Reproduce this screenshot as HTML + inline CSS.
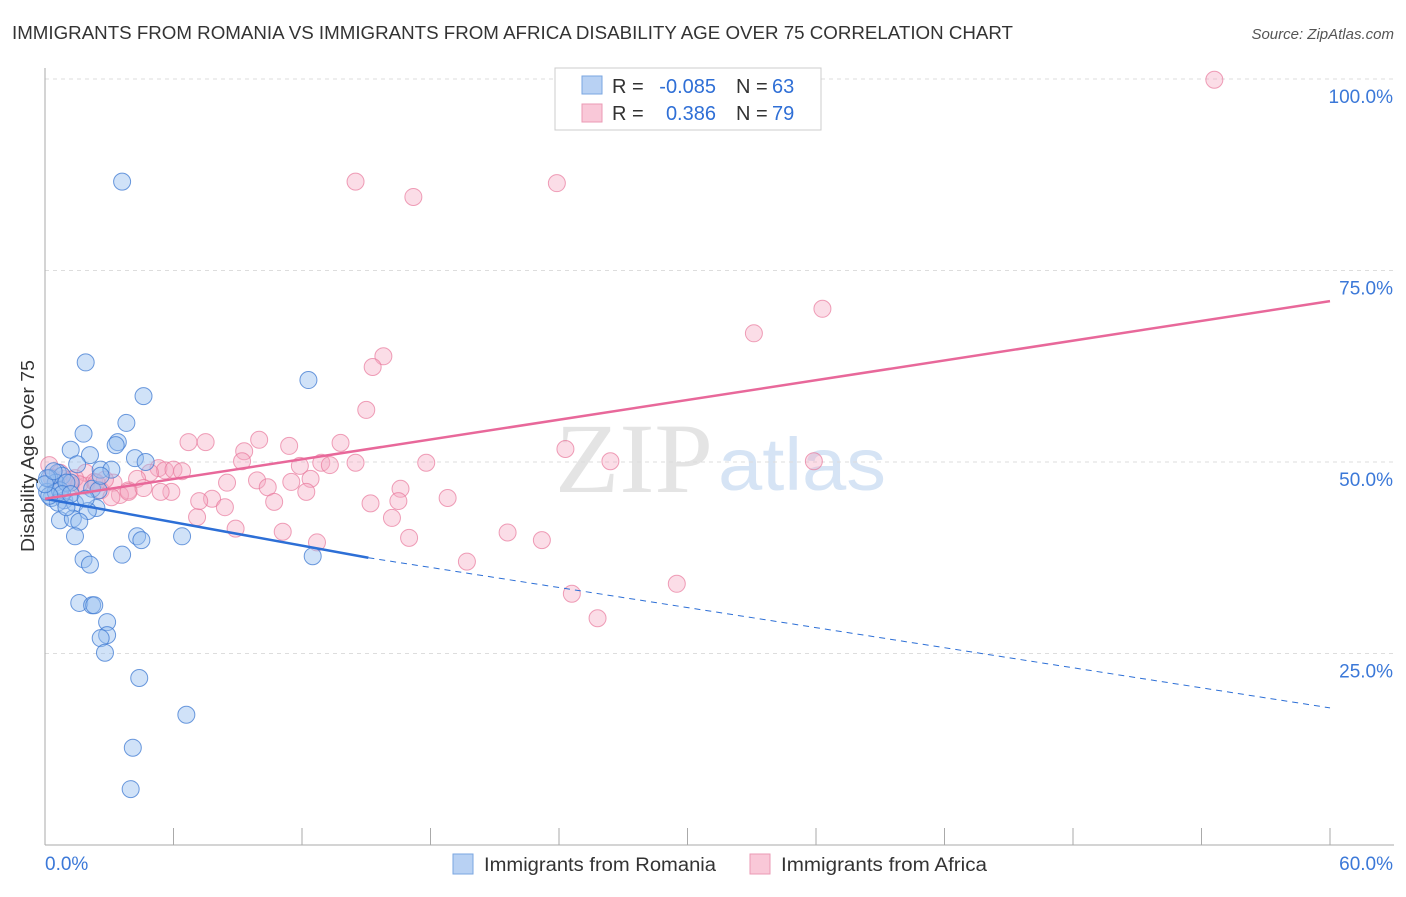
<!DOCTYPE html><html><head><meta charset="utf-8"><style>
body{margin:0;background:#fff;font-family:"Liberation Sans",sans-serif}
</style></head><body>
<svg id="c" width="1406" height="892" xmlns="http://www.w3.org/2000/svg">
<text x="12" y="39" font-size="18" fill="#333" textLength="1001" lengthAdjust="spacingAndGlyphs">IMMIGRANTS FROM ROMANIA VS IMMIGRANTS FROM AFRICA DISABILITY AGE OVER 75 CORRELATION CHART</text>
<text x="1394" y="39" font-size="15" fill="#555" font-style="italic" text-anchor="end">Source: ZipAtlas.com</text>
<text x="555" y="492" font-size="100" fill="#e4e4e4" font-family="Liberation Serif,serif" textLength="158" lengthAdjust="spacingAndGlyphs">ZIP</text>
<text x="718" y="490" font-size="74" fill="#d6e4f5" textLength="168" lengthAdjust="spacingAndGlyphs">atlas</text>
<g id="grid"></g><g id="axes"></g><g id="pts"></g><g id="lines"></g>
<text x="34" y="456" font-size="18" fill="#333" text-anchor="middle" transform="rotate(-90 34 456)" textLength="192" lengthAdjust="spacingAndGlyphs">Disability Age Over 75</text>
<g>
<rect x="555" y="68" width="266" height="62" fill="#fff" stroke="#ccc"/>
<rect x="582" y="76" width="20" height="18" fill="#b8d1f3" stroke="#7aa6e0"/>
<rect x="582" y="104" width="20" height="18" fill="#f9c8d8" stroke="#eb9ab4"/>
<text x="612" y="93" font-size="20" fill="#333">R =</text>
<text x="716" y="93" font-size="20" fill="#2f6fd6" text-anchor="end">-0.085</text>
<text x="736" y="93" font-size="20" fill="#333">N =</text>
<text x="772" y="93" font-size="20" fill="#2f6fd6">63</text>
<text x="612" y="120" font-size="20" fill="#333">R =</text>
<text x="716" y="120" font-size="20" fill="#2f6fd6" text-anchor="end">0.386</text>
<text x="736" y="120" font-size="20" fill="#333">N =</text>
<text x="772" y="120" font-size="20" fill="#2f6fd6">79</text>
</g>
<g>
<rect x="453" y="854" width="20" height="20" fill="#b8d1f3" stroke="#7aa6e0"/>
<text x="484" y="871" font-size="19" fill="#333" textLength="232" lengthAdjust="spacingAndGlyphs">Immigrants from Romania</text>
<rect x="750" y="854" width="20" height="20" fill="#f9c8d8" stroke="#eb9ab4"/>
<text x="781" y="871" font-size="19" fill="#333" textLength="206" lengthAdjust="spacingAndGlyphs">Immigrants from Africa</text>
</g>
</svg>
<script>
const yTicks=[25,50,75,100];
const yTickLabels=["25.0%","50.0%","75.0%","100.0%"];
const romaniaX=[3.6,1.9,4.6,12.3,3.8,1.8,3.4,1.2,3.3,2.1,4.2,4.7,1.5,2.6,3.1,0.6,0.8,0.2,0.5,1.2,2.2,2.5,0.3,0.9,1.4,2.4,2.0,0.7,1.3,1.6,1.4,4.3,4.5,6.4,3.6,12.5,1.8,2.1,1.6,2.2,2.3,2.9,2.9,2.6,2.8,4.4,6.6,4.1,4.0,0.1,0.5,0.7,1.0,0.1,0.6,1.0,0.8,0.2,0.0,0.4,2.6,1.2,1.9];
const romaniaY=[86.6,63.0,58.6,60.7,55.1,53.7,52.6,51.6,52.2,50.9,50.5,50.0,49.7,49.0,49.0,48.6,48.2,47.9,47.3,47.3,46.5,46.3,45.3,45.0,44.6,44.0,43.6,42.4,42.6,42.2,40.3,40.3,39.8,40.3,37.9,37.7,37.3,36.6,31.6,31.3,31.3,29.1,27.4,27.0,25.1,21.8,17.0,12.7,7.3,46.1,46.1,46.3,47.3,47.9,44.7,44.1,45.8,45.6,47.1,48.8,48.2,45.8,45.2];
const africaX=[54.6,14.5,23.9,17.2,36.3,33.1,15.8,15.3,15.0,6.7,7.5,10.0,11.4,13.8,9.3,24.3,9.2,11.9,12.9,13.3,14.5,17.8,26.4,35.9,0.2,5.3,5.6,6.0,6.4,4.9,4.3,3.2,9.9,8.5,10.4,11.5,12.4,1.9,2.6,0.9,1.2,0.5,3.9,3.5,3.9,5.9,7.8,10.7,12.2,15.2,16.6,16.5,18.8,7.1,8.4,8.9,11.1,12.7,16.2,17.0,21.6,23.2,19.7,24.6,29.5,25.8,1.9,2.3,2.8,0.7,0.3,1.4,2.4,4.6,5.4,7.2,1.2,1.6,3.1];
const africaY=[99.9,86.6,86.4,84.6,70.0,66.8,63.8,62.4,56.8,52.6,52.6,52.9,52.1,52.5,51.4,51.7,50.1,49.5,49.9,49.6,49.9,49.9,50.1,50.1,49.6,49.2,48.9,49.0,48.8,48.6,47.8,47.3,47.6,47.3,46.7,47.4,47.8,46.9,46.3,47.8,46.9,47.3,46.3,45.7,46.1,46.1,45.2,44.8,46.1,44.6,46.5,44.9,45.3,42.8,44.1,41.3,40.9,39.5,42.7,40.1,40.8,39.8,37.0,32.8,34.1,29.6,48.6,47.4,47.7,48.6,48.0,47.9,47.3,46.6,46.1,44.9,47.7,47.1,45.4];
const romaniaTrend=[[0,45.2],[15.1,37.5],[60,17.9]];
const africaTrend=[[0,45.2],[60,71.0]];
const X=v=>45+v/60*1285, Y=v=>845-v/100*766;
const NS="http://www.w3.org/2000/svg";
function mk(t,a,p){const e=document.createElementNS(NS,t);for(const k in a)e.setAttribute(k,a[k]);document.getElementById(p).appendChild(e);return e;}
yTicks.forEach((t,i)=>{
 const g=mk('line',{x1:45,x2:1394,y1:Y(t),y2:Y(t),stroke:'#ddd','stroke-dasharray':'4 4'},'grid');
 
 
 const l=mk('text',{x:1393,y:Y(t)+24,'font-size':19,fill:'#3b78d8','text-anchor':'end'},'axes');
 l.textContent=yTickLabels[i];
 
 
});
mk('line',{x1:45,x2:45,y1:68,y2:845,stroke:'#aaa'},'axes');
mk('line',{x1:45,x2:1394,y1:845,y2:845,stroke:'#aaa'},'axes');
for(let i=0;i<=10;i++){mk('line',{x1:X(i*6),x2:X(i*6),y1:828,y2:845,stroke:'#aaa'},'axes');}
const xl0=mk('text',{x:45,y:870,'font-size':19,fill:'#3b78d8'},'axes');xl0.textContent='0.0%';


const xl1=mk('text',{x:1393,y:870,'font-size':19,fill:'#3b78d8','text-anchor':'end'},'axes');xl1.textContent='60.0%';


africaX.forEach((x,i)=>{const c=mk('circle',{cx:X(x),cy:Y(africaY[i]),r:8.5,fill:'rgba(246,170,195,0.4)',stroke:'rgba(232,120,155,0.7)','stroke-width':1},'pts');
 
 });
romaniaX.forEach((x,i)=>{const c=mk('circle',{cx:X(x),cy:Y(romaniaY[i]),r:8.5,fill:'rgba(150,190,240,0.45)',stroke:'rgba(60,120,210,0.75)','stroke-width':1},'pts');
 
 });
const b1=mk('line',{x1:X(romaniaTrend[0][0]),y1:Y(romaniaTrend[0][1]),x2:X(romaniaTrend[1][0]),y2:Y(romaniaTrend[1][1]),stroke:'#2d6fd6','stroke-width':2.5},'lines');


const b2=mk('line',{x1:X(romaniaTrend[1][0]),y1:Y(romaniaTrend[1][1]),x2:X(romaniaTrend[2][0]),y2:Y(romaniaTrend[2][1]),stroke:'#2d6fd6','stroke-width':1,'stroke-dasharray':'6 5'},'lines');


const p1=mk('line',{x1:X(africaTrend[0][0]),y1:Y(africaTrend[0][1]),x2:X(africaTrend[1][0]),y2:Y(africaTrend[1][1]),stroke:'#e8689a','stroke-width':2.5},'lines');


</script>
</body></html>
